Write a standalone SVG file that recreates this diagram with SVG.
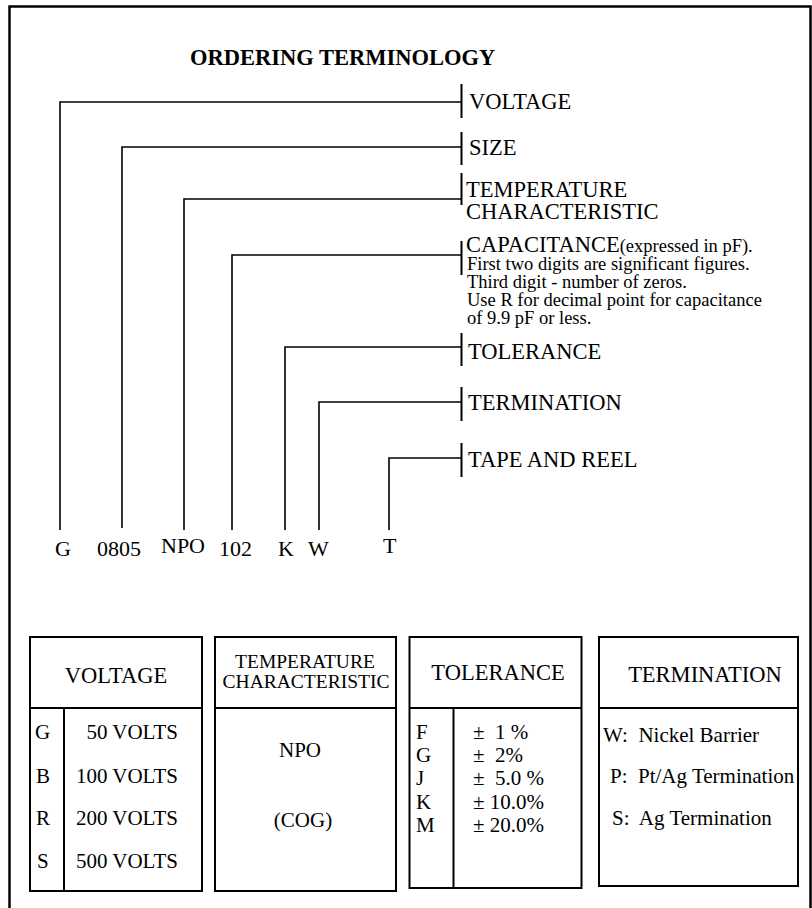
<svg xmlns="http://www.w3.org/2000/svg" width="812" height="908" viewBox="0 0 812 908">
<style>
text{font-family:"Liberation Serif","Times New Roman",serif;fill:#000}
.lbl{font-size:22.5px}
.sm{font-size:18.5px}
.code{font-size:22px}
.th{font-size:22.5px}
.th2{font-size:19.5px}
.td{font-size:21px}
.ln{fill:none;stroke:#000;stroke-width:1.6}
.bar{fill:none;stroke:#000;stroke-width:2}
.tbl{fill:none;stroke:#000;stroke-width:2}
</style>
<rect width="812" height="908" fill="#fff"/>
<path d="M9.5 908 V6.5 H810.5 V908" fill="none" stroke="#000" stroke-width="2.5"/>
<text id="title" x="190" y="65" font-size="22.5" font-weight="bold">ORDERING TERMINOLOGY</text>

<g id="connectors">
<path class="ln" d="M60 530 V102 H461"/>
<path class="ln" d="M122 528 V147 H461"/>
<path class="ln" d="M184 530 V199 H461"/>
<path class="ln" d="M232 530 V255 H461"/>
<path class="ln" d="M285 530 V347 H461"/>
<path class="ln" d="M319 530 V402 H461"/>
<path class="ln" d="M389 530 V458 H461"/>
<path class="bar" d="M461.5 84 V118 M461.5 132 V165 M461.5 173 V205 M461.5 241 V275 M461.5 333 V366 M461.5 387 V421 M461.5 443 V477"/>
</g>

<g id="label-voltage"><text class="lbl" x="469" y="109">VOLTAGE</text></g>
<g id="label-size"><text class="lbl" x="469" y="155">SIZE</text></g>
<g id="label-temp"><text class="lbl" x="466" y="197">TEMPERATURE</text><text class="lbl" x="466" y="219">CHARACTERISTIC</text></g>
<g id="label-cap">
<text x="466" y="252"><tspan class="lbl">CAPACITANCE</tspan><tspan class="sm" font-size="19px">(expressed in pF).</tspan></text>
<text class="sm" x="467" y="270">First two digits are significant figures.</text>
<text class="sm" x="467" y="288">Third digit - number of zeros.</text>
<text class="sm" x="467" y="306">Use R for decimal point for capacitance</text>
<text class="sm" x="467" y="324">of 9.9 pF or less.</text>
</g>
<g id="label-tol"><text class="lbl" x="468" y="359">TOLERANCE</text></g>
<g id="label-term"><text class="lbl" x="468" y="410">TERMINATION</text></g>
<g id="label-tape"><text class="lbl" x="468" y="467">TAPE AND REEL</text></g>

<g id="codes">
<text class="code" x="55" y="556">G</text>
<text class="code" x="97" y="556">0805</text>
<text class="code" x="161" y="553">NPO</text>
<text class="code" x="219" y="556">102</text>
<text class="code" x="278" y="556">K</text>
<text class="code" x="308" y="556">W</text>
<text class="code" x="383" y="553">T</text>
</g>

<g id="table-voltage">
<rect class="tbl" x="30" y="637" width="172" height="254"/>
<path class="tbl" d="M30 708 H202 M64 708 V891"/>
<text class="th" x="116" y="683" text-anchor="middle">VOLTAGE</text>
<text class="td" x="35" y="739">G</text><text class="td" x="178" y="739" text-anchor="end">50 VOLTS</text>
<text class="td" x="36" y="783">B</text><text class="td" x="178" y="783" text-anchor="end">100 VOLTS</text>
<text class="td" x="36" y="825">R</text><text class="td" x="178" y="825" text-anchor="end">200 VOLTS</text>
<text class="td" x="37" y="868">S</text><text class="td" x="178" y="868" text-anchor="end">500 VOLTS</text>
</g>

<g id="table-temp">
<rect class="tbl" x="215" y="637" width="181" height="254"/>
<path class="tbl" d="M215 708 H396"/>
<text class="th2" x="305" y="668" text-anchor="middle">TEMPERATURE</text>
<text class="th2" x="306" y="688" text-anchor="middle">CHARACTERISTIC</text>
<text class="td" x="300" y="757" text-anchor="middle">NPO</text>
<text class="td" x="303" y="827" text-anchor="middle">(COG)</text>
</g>

<g id="table-tol">
<rect class="tbl" x="409.5" y="637" width="172" height="251"/>
<path class="tbl" d="M409.5 708 H581.5 M453.5 708 V888"/>
<text class="th" x="498" y="680" text-anchor="middle">TOLERANCE</text>
<text class="td" x="416" y="739">F</text><text class="td" x="473" y="739" xml:space="preserve">±  1 %</text>
<text class="td" x="416" y="762">G</text><text class="td" x="473" y="762" xml:space="preserve">±  2%</text>
<text class="td" x="416" y="785">J</text><text class="td" x="473" y="785" xml:space="preserve">±  5.0 %</text>
<text class="td" x="416" y="809">K</text><text class="td" x="473" y="809">± 10.0%</text>
<text class="td" x="416" y="832">M</text><text class="td" x="473" y="832">± 20.0%</text>
</g>

<g id="table-term">
<rect class="tbl" x="599" y="637" width="199" height="249"/>
<path class="tbl" d="M599 708 H798"/>
<text class="th" x="705" y="682" text-anchor="middle">TERMINATION</text>
<text class="td" x="603" y="742" xml:space="preserve">W:  Nickel Barrier</text>
<text class="td" x="610" y="783" xml:space="preserve">P:  Pt/Ag Termination</text>
<text class="td" x="612" y="825" xml:space="preserve">S:  Ag Termination</text>
</g>
</svg>
